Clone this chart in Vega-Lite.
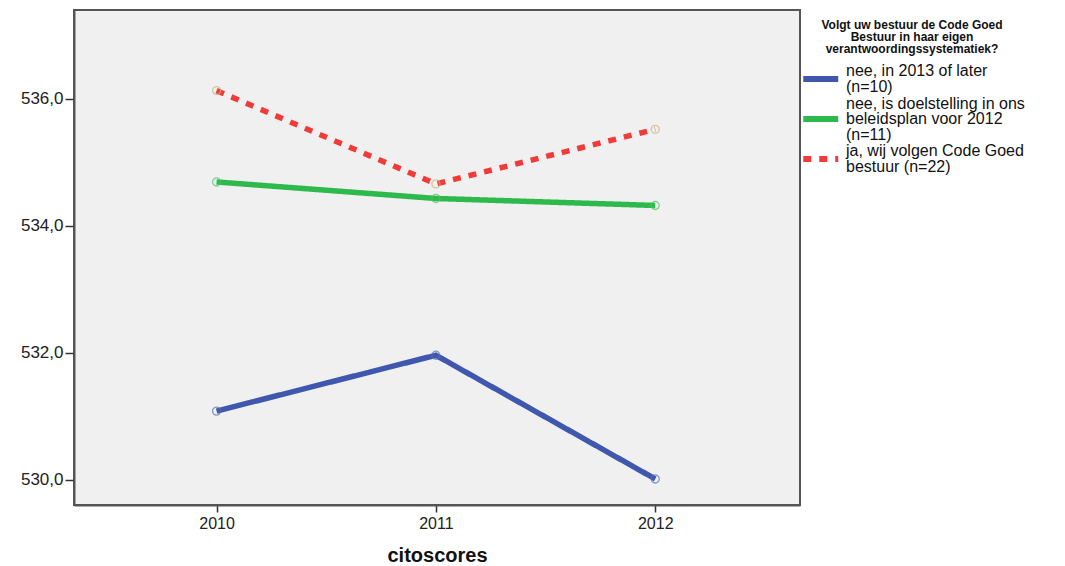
{
  "$schema": "https://vega.github.io/schema/vega-lite/v6.json",
  "autosize": {"type": "none"},
  "width": 726,
  "height": 495,
  "padding": {"left": 74, "top": 10, "right": 265, "bottom": 61},
  "background": "white",
  "data": {
    "values": [
      {"jaar": 2010, "score": 531.08, "groep": "nee, in 2013 of later (n=10)"},
      {"jaar": 2011, "score": 531.96, "groep": "nee, in 2013 of later (n=10)"},
      {"jaar": 2012, "score": 530.01, "groep": "nee, in 2013 of later (n=10)"},
      {"jaar": 2010, "score": 534.69, "groep": "nee, is doelstelling in ons beleidsplan voor 2012 (n=11)"},
      {"jaar": 2011, "score": 534.43, "groep": "nee, is doelstelling in ons beleidsplan voor 2012 (n=11)"},
      {"jaar": 2012, "score": 534.32, "groep": "nee, is doelstelling in ons beleidsplan voor 2012 (n=11)"},
      {"jaar": 2010, "score": 536.13, "groep": "ja, wij volgen Code Goed bestuur (n=22)"},
      {"jaar": 2011, "score": 534.66, "groep": "ja, wij volgen Code Goed bestuur (n=22)"},
      {"jaar": 2012, "score": 535.52, "groep": "ja, wij volgen Code Goed bestuur (n=22)"}
    ]
  },
  "encoding": {
    "x": {
      "field": "jaar", "type": "quantitative",
      "scale": {"domain": [2009.35, 2012.66], "nice": false, "zero": false},
      "axis": {
        "values": [2010, 2011, 2012], "format": "d", "grid": false,
        "title": "citoscores", "titleFontSize": 20, "titleFontWeight": "bold",
        "titleFont": "Liberation Sans", "titleColor": "#111", "titlePadding": 14,
        "labelFontSize": 16, "labelFont": "Liberation Sans", "labelColor": "#222",
        "tickSize": 7, "tickColor": "#333", "tickWidth": 1.5, "labelPadding": 3,
        "domainColor": "#555", "domainWidth": 2
      }
    },
    "y": {
      "field": "score", "type": "quantitative",
      "scale": {"domain": [529.6, 537.4], "nice": false, "zero": false},
      "axis": {
        "values": [530, 532, 534, 536], "grid": false, "title": null,
        "labelExpr": "replace(format(datum.value, '.1f'), '.', ',')",
        "labelFontSize": 17, "labelFont": "Liberation Sans", "labelColor": "#222",
        "tickSize": 9, "tickColor": "#333", "tickWidth": 1.5, "labelPadding": 2,
        "domainColor": "#555", "domainWidth": 2
      }
    }
  },
  "layer": [
    {
      "mark": {"type": "line", "strokeWidth": 5.5, "strokeCap": "butt"},
      "encoding": {
        "color": {
          "field": "groep", "type": "nominal",
          "scale": {
            "domain": ["nee, in 2013 of later (n=10)", "nee, is doelstelling in ons beleidsplan voor 2012 (n=11)", "ja, wij volgen Code Goed bestuur (n=22)"],
            "range": ["#3f57ad", "#2eb94c", "#f23a3a"]
          },
          "legend": {
            "title": ["Volgt uw bestuur de Code Goed", "Bestuur in haar eigen", "verantwoordingssystematiek?"],
            "labelExpr": "datum.label == 'nee, in 2013 of later (n=10)' ? ['nee, in 2013 of later', '(n=10)'] : datum.label == 'ja, wij volgen Code Goed bestuur (n=22)' ? ['ja, wij volgen Code Goed', 'bestuur (n=22)'] : ['nee, is doelstelling in ons', 'beleidsplan voor 2012', '(n=11)']",
            "encode": {
              "labels": {
                "update": {
                  "dy": {"signal": "indexof(datum.value, 'beleidsplan') >= 0 ? -15.5 : -7.75"}
                }
              }
            }
          }
        },
        "strokeDash": {
          "field": "groep", "type": "nominal",
          "scale": {
            "domain": ["nee, in 2013 of later (n=10)", "nee, is doelstelling in ons beleidsplan voor 2012 (n=11)", "ja, wij volgen Code Goed bestuur (n=22)"],
            "range": [[1, 0], [1, 0], [8, 8]]
          },
          "legend": null
        }
      }
    },
    {
      "mark": {"type": "point", "shape": "circle", "filled": false, "size": 65, "strokeWidth": 1.3},
      "encoding": {
        "stroke": {
          "field": "groep", "type": "nominal",
          "scale": {
            "domain": ["nee, in 2013 of later (n=10)", "nee, is doelstelling in ons beleidsplan voor 2012 (n=11)", "ja, wij volgen Code Goed bestuur (n=22)"],
            "range": ["#5a6fbb", "#4cc463", "#c9b97c"]
          },
          "legend": null
        }
      }
    }
  ],
  "config": {
    "view": {"fill": "#f0f0f0", "stroke": "#555", "strokeWidth": 2},
    "style": {"guide-label": {"lineHeight": 15.5}},
    "legend": {
      "orient": "none",
      "legendX": 726,
      "legendY": 10,
      "titleFont": "Liberation Sans",
      "titleFontSize": 12,
      "titleFontWeight": "bold",
      "titleColor": "#111",
      "titleAnchor": "middle",
      "titleAlign": "center",
      "titleLineHeight": 12,
      "titlePadding": 11,
      "titleLimit": 400,
      "labelFont": "Liberation Sans",
      "labelFontSize": 16,
      "labelColor": "#111",
      "labelLimit": 400,
      "labelOffset": 22,
      "symbolType": "M-1,0H3",
      "symbolSize": 306,
      "symbolStrokeWidth": 6,
      "rowPadding": 0
    }
  }
}
